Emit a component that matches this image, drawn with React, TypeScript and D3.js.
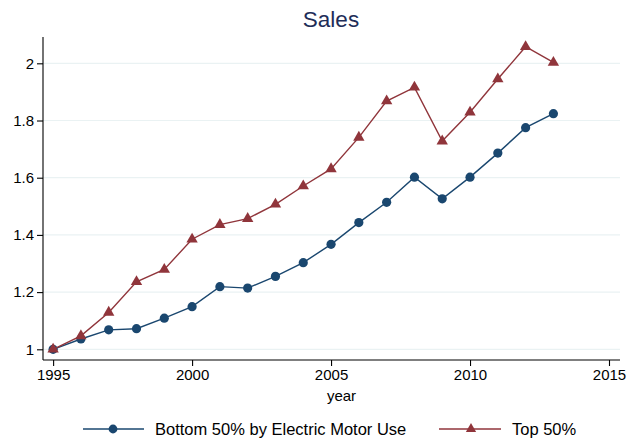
import React, { useEffect, useRef } from 'react'
import * as d3 from 'd3'

const years = [1995, 1996, 1997, 1998, 1999, 2000, 2001, 2002, 2003, 2004, 2005, 2006, 2007, 2008, 2009, 2010, 2011, 2012, 2013]
const bottom50 = [1.0, 1.036, 1.068, 1.072, 1.109, 1.149, 1.219, 1.214, 1.255, 1.303, 1.367, 1.443, 1.514, 1.602, 1.526, 1.602, 1.686, 1.775, 1.824]
const top50 = [1.0, 1.047, 1.129, 1.236, 1.279, 1.385, 1.436, 1.457, 1.507, 1.571, 1.631, 1.741, 1.868, 1.916, 1.728, 1.829, 1.945, 2.058, 2.003]
const xTicks = [1995, 2000, 2005, 2010, 2015]
const yTicks = [1, 1.2, 1.4, 1.6, 1.8, 2]
const seriesNames = ['Bottom 50% by Electric Motor Use', 'Top 50%']

const W = 629
const H = 443
const FONT = '"Liberation Sans", Arial, Helvetica, sans-serif'
const BLUE = '#1a476f'
const RED = '#90353b'

const App: React.FC = () => {
  const ref = useRef<SVGSVGElement>(null)

  useEffect(() => {
    document.body.style.margin = '0'
    const svg = d3.select(ref.current)
    svg.selectAll('*').remove()

    const left = 43
    const right = 620
    const top = 37
    const bottom = 360

    const x = d3.scaleLinear().domain([1994.636, 2015.396]).range([left, right])
    const y = d3.scaleLinear().domain([0.9626, 2.092]).range([bottom, top])

    svg.append('rect').attr('width', W).attr('height', H).attr('fill', '#fff')

    // gridlines
    svg
      .append('g')
      .selectAll('line')
      .data(yTicks)
      .enter()
      .append('line')
      .attr('x1', left)
      .attr('x2', right)
      .attr('y1', (d) => y(d))
      .attr('y2', (d) => y(d))
      .attr('stroke', '#eaf2f3')
      .attr('stroke-width', 1.2)

    // title
    svg
      .append('text')
      .attr('x', 331)
      .attr('y', 27)
      .attr('text-anchor', 'middle')
      .attr('font-family', FONT)
      .attr('font-size', 22.5)
      .attr('fill', '#1e2d58')
      .text('Sales')

    // axes
    const yAxis = svg
      .append('g')
      .attr('transform', `translate(${left},0)`)
      .call(d3.axisLeft(y).tickValues(yTicks).tickSize(6).tickPadding(3).tickFormat(d3.format('')))
    const xAxis = svg
      .append('g')
      .attr('transform', `translate(0,${bottom})`)
      .call(d3.axisBottom(x).tickValues(xTicks).tickSize(6).tickPadding(3).tickFormat(d3.format('d')))

    ;[yAxis, xAxis].forEach((ax) => {
      ax.select('.domain').attr('stroke', '#000').attr('stroke-width', 1.1)
      ax.selectAll('.tick line').attr('stroke', '#000').attr('stroke-width', 1.1)
      ax.selectAll('.tick text').attr('font-family', FONT).attr('font-size', 15).attr('fill', '#000')
    })
    yAxis.select('.domain').attr('d', `M0,${bottom}V${top}`)
    xAxis.select('.domain').attr('d', `M${left},0H${right}`)

    svg
      .append('text')
      .attr('x', (left + right) / 2 + 10)
      .attr('y', 401)
      .attr('text-anchor', 'middle')
      .attr('font-family', FONT)
      .attr('font-size', 15)
      .text('year')

    const line = d3
      .line<number>()
      .x((_, i) => x(years[i]))
      .y((d) => y(d))

    const tri = d3.symbol().type(d3.symbolTriangle).size(56)
    const triSmall = d3.symbol().type(d3.symbolTriangle).size(46)

    // bottom series
    svg.append('path').datum(bottom50).attr('d', line).attr('fill', 'none').attr('stroke', BLUE).attr('stroke-width', 1.4)
    svg
      .append('g')
      .selectAll('circle')
      .data(bottom50)
      .enter()
      .append('circle')
      .attr('cx', (_, i) => x(years[i]))
      .attr('cy', (d) => y(d))
      .attr('r', 4.6)
      .attr('fill', BLUE)

    // top series
    svg.append('path').datum(top50).attr('d', line).attr('fill', 'none').attr('stroke', RED).attr('stroke-width', 1.4)
    svg
      .append('g')
      .selectAll('path')
      .data(top50)
      .enter()
      .append('path')
      .attr('d', tri)
      .attr('transform', (d, i) => `translate(${x(years[i])},${y(d)})`)
      .attr('fill', RED)

    // legend
    const ly = 429
    const lg = svg.append('g')
    lg.append('line').attr('x1', 83).attr('x2', 144).attr('y1', ly).attr('y2', ly).attr('stroke', BLUE).attr('stroke-width', 1.4)
    lg.append('circle').attr('cx', 113).attr('cy', ly).attr('r', 4.4).attr('fill', BLUE)
    lg.append('text').attr('x', 155).attr('y', ly + 6).attr('font-family', FONT).attr('font-size', 16.5).text(seriesNames[0])
    lg.append('line').attr('x1', 439).attr('x2', 501).attr('y1', ly).attr('y2', ly).attr('stroke', RED).attr('stroke-width', 1.4)
    lg.append('path').attr('d', triSmall).attr('transform', `translate(471,${ly})`).attr('fill', RED)
    lg.append('text').attr('x', 512).attr('y', ly + 6).attr('font-family', FONT).attr('font-size', 16.5).text(seriesNames[1])
  }, [])

  return <svg ref={ref} width={W} height={H} style={{ display: 'block' }} />
}

export default App
